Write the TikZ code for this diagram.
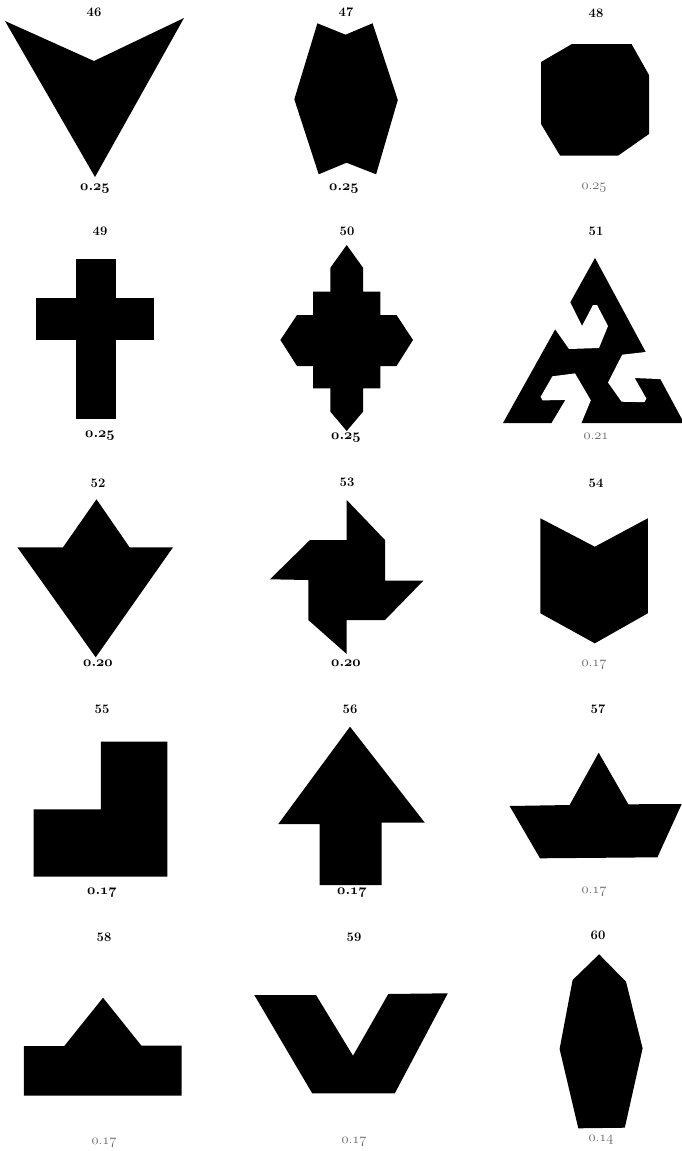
\documentclass[tikz,border=0pt]{standalone}
\newcommand\osb[1]{{\usefont{OML}{cmm}{b}{it}#1}}
\newcommand\osm[1]{{\usefont{OML}{cmm}{m}{it}#1}}
\newcommand\ovn[2]{\osb{#1}.\osb{#2}}
\newcommand\fvn[2]{\osm{#1}.\osm{#2}}
\begin{document}
\begin{tikzpicture}[x=1pt,y=-1pt,
  blk/.style={fill=black},
  cut/.style={fill=white},
  num/.style={font=\bfseries\fontsize{13}{13}\selectfont, inner sep=0pt},
  val/.style={font=\bfseries\fontsize{15}{15}\selectfont, inner sep=0pt},
  faint/.style={font=\fontsize{15}{15}\selectfont, text=black!60, inner sep=0pt}]
\useasboundingbox[fill=white] (0,0) rectangle (682,1151);

% ---------- row 1 ----------
\node[num] (n46) at (94,12) {46};
\fill[blk] (5,21) -- (94,61) -- (184,18) -- (95,177) -- cycle;
\node[val] (v46) at (95,189) {\ovn{0}{25}};

\node[num] (n47) at (346,12) {47};
\fill[blk] (317.4,23.3) -- (345.5,34.7) -- (372.6,23.3) -- (397.8,100) -- (376.1,174.3)
  -- (346.5,162.7) -- (318.7,174.3) -- (294.3,99.3) -- cycle;
\node[val] (v47) at (344,189) {\ovn{0}{25}};

\node[num] (n48) at (596,13) {48};
\fill[blk] (572,44) -- (631.5,44) -- (649,75) -- (649,134) -- (618.3,155.5)
  -- (560,155.5) -- (541,124) -- (541,62) -- cycle;
\node[faint] (v48) at (594,188) {\fvn{0}{25}};

% ---------- row 2 ----------
\node[num] (n49) at (100,231) {49};
\fill[blk] (76,259) rectangle (116,419);
\fill[blk] (36,298) rectangle (154,340);
\node[val] (v49) at (100,436) {\ovn{0}{25}};

\node[num] (n50) at (347,231) {50};
\fill[blk] (346.7,245) -- (363,267.7) -- (363,291.7) -- (380.4,291.7) -- (380.4,315)
  -- (396.5,315) -- (413,340) -- (396.5,366) -- (380.4,366) -- (380.4,388.3)
  -- (363,388.3) -- (363,411.7) -- (346.7,431) -- (330.4,411.7) -- (330.4,388.3)
  -- (313,388.3) -- (313,366) -- (297,366) -- (280.4,340) -- (297,315)
  -- (313,315) -- (313,291.7) -- (330.4,291.7) -- (330.4,267.7) -- cycle;
\node[val] (v50) at (346,438) {\ovn{0}{25}};

\node[num] (n51) at (596,231) {51};
\fill[blk] (595,258) -- (684,423) -- (503,423) -- cycle;
\fill[cut] (566,300) -- (570,302) -- (582,326) -- (593,305) -- (597,305) -- (608,326)
  -- (599,348) -- (569,349) -- (555,329) -- (551,327) -- cycle;
\fill[cut] (663.8,377.2) -- (660.3,379.1) -- (634.6,378) -- (646.4,398.6) -- (644.4,402.2)
  -- (621.6,401.7) -- (608,382.5) -- (622.2,354.7) -- (645.6,352) -- (649.1,350.1) -- cycle;
\fill[cut] (551.7,427) -- (551.7,422.9) -- (565.4,399.9) -- (542.6,400.4) -- (540.6,396.8)
  -- (552.4,376.3) -- (575,373.4) -- (590.8,400.3) -- (581.4,423) -- (581.4,427) -- cycle;
\node[faint] (v51) at (596,436) {\fvn{0}{21}};

% ---------- row 3 ----------
\node[num] (n52) at (98,483) {52};
\fill[blk] (96.5,499.3) -- (129.6,547.3) -- (173,547.3) -- (95.7,657.3) -- (17.4,547.3)
  -- (63,547.3) -- cycle;
\node[val] (v52) at (98,663) {\ovn{0}{20}};

\node[num] (n53) at (347,482) {53};
\fill[blk] (346.7,500) -- (385,540) -- (385,580.7) -- (423.3,580.7) -- (385,620)
  -- (346.7,620) -- (346.7,654) -- (308.3,620) -- (308.3,580) -- (270,579.3)
  -- (310,540) -- (346.7,540) -- cycle;
\node[val] (v53) at (346,663) {\ovn{0}{20}};

\node[num] (n54) at (596,483) {54};
\fill[blk] (540.4,518.3) -- (594.8,546.7) -- (647.8,518.3) -- (647.8,613.3)
  -- (594.8,643.3) -- (540.4,613.3) -- cycle;
\node[faint] (v54) at (594,665) {\fvn{0}{17}};

% ---------- row 4 ----------
\node[num] (n55) at (102,709) {55};
\fill[blk] (33.5,809.3) -- (100.9,809.3) -- (100.9,741.7) -- (167.4,741.7)
  -- (167.4,876.7) -- (33.5,876.7) -- cycle;
\node[val] (v55) at (102,893) {\ovn{0}{17}};

\node[num] (n56) at (350,709) {56};
\fill[blk] (350,726.7) -- (424.8,822.7) -- (381.7,822.7) -- (381.7,885) -- (319.6,885)
  -- (319.6,824) -- (278.3,824) -- cycle;
\node[val] (v56) at (352,893) {\ovn{0}{17}};

\node[num] (n57) at (598,709) {57};
\fill[blk] (598.7,752.7) -- (628.3,804.3) -- (681.7,804) -- (657.4,857.3) -- (540,858.3)
  -- (509.6,806) -- (569.6,805) -- cycle;
\node[faint] (v57) at (594,892) {\fvn{0}{17}};

% ---------- row 5 ----------
\node[num] (n58) at (104,937) {58};
\fill[blk] (103,997.7) -- (141.3,1045.5) -- (181.7,1045.5) -- (181.7,1095.7)
  -- (23.9,1095.7) -- (23.9,1046) -- (64.3,1046) -- cycle;
\node[faint] (v58) at (104,1143) {\fvn{0}{17}};

\node[num] (n59) at (354,937) {59};
\fill[blk] (254.3,995) -- (316,995) -- (353,1055.7) -- (388.3,994) -- (447.8,993.3)
  -- (394.8,1093.3) -- (312.2,1093.3) -- cycle;
\node[faint] (v59) at (354,1142) {\fvn{0}{17}};

\node[num] (n60) at (598,935) {60};
\fill[blk] (599.1,954.3) -- (626,981.7) -- (642.6,1048.3) -- (624.8,1127.7)
  -- (578.3,1128.3) -- (559.6,1049) -- (572.6,980) -- cycle;
\node[faint] (v60) at (601,1140) {\fvn{0}{14}};
\end{tikzpicture}
\end{document}
